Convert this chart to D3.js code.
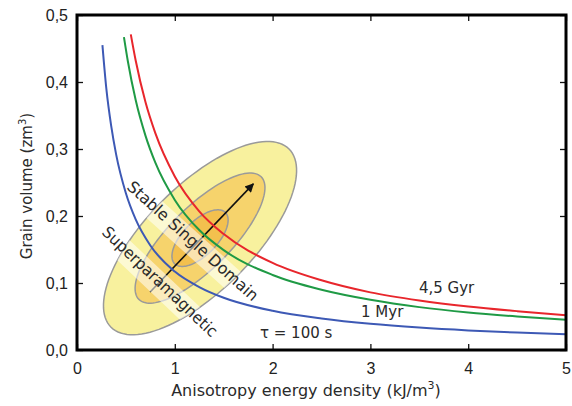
<!DOCTYPE html>
<html><head><meta charset="utf-8">
<script src="https://cdn.jsdelivr.net/npm/d3@7"></script>
<style>body{margin:0;background:#fff}svg{display:block}</style>
</head><body><svg id="c" width="572" height="406"></svg>
<script>
// ---- data ----
const anisotropyTicks = [0, 1, 2, 3, 4, 5];
const volumeTicks = [0, 0.1, 0.2, 0.3, 0.4, 0.5];
const curveNames = ["τ = 100 s", "1 Myr", "4,5 Gyr"];
const tau100sK = [0.26, 0.30, 0.35, 0.40, 0.50, 0.60, 0.75, 1.0, 1.25, 1.5, 2.0, 2.5, 3.0, 3.5, 4.0, 4.5, 5.0];
const tau100sV = [0.455, 0.39, 0.334, 0.292, 0.234, 0.195, 0.156, 0.117, 0.094, 0.078, 0.0585, 0.047, 0.039, 0.0334, 0.0292, 0.026, 0.0234];
const myr1K = [0.48, 0.52, 0.6, 0.7, 0.8, 1.0, 1.25, 1.5, 2.0, 2.5, 3.0, 3.5, 4.0, 4.5, 5.0];
const myr1V = [0.467, 0.431, 0.373, 0.32, 0.28, 0.224, 0.179, 0.149, 0.112, 0.090, 0.075, 0.064, 0.056, 0.050, 0.045];
const gyr45K = [0.55, 0.6, 0.7, 0.8, 1.0, 1.25, 1.5, 2.0, 2.5, 3.0, 3.5, 4.0, 4.5, 5.0];
const gyr45V = [0.471, 0.432, 0.37, 0.324, 0.259, 0.207, 0.173, 0.130, 0.104, 0.086, 0.074, 0.065, 0.058, 0.052];
// distribution ellipses (outer, middle, inner): centre, major-axis end, minor-axis end (data units)
const ellipseCentre = [1.258, 0.167];
const ellipseMajorEnd = [[2.168, 0.300], [1.883, 0.2585], [1.518, 0.2052]];
const ellipseMinorEnd = [[1.641, 0.1112], [1.482, 0.1345], [1.380, 0.149]];
const arrowFrom = [0.748, 0.0866];
const arrowTo = [1.803, 0.248];
const regionNames = ["Stable Single Domain", "Superparamagnetic"];

// ---- layout / style ----
const svg = d3.select("#c");
const x = d3.scaleLinear().domain([0, 5]).range([77, 566]);
const y = d3.scaleLinear().domain([0, 0.5]).range([350, 15]);
const curveColors = ["#3d59b5", "#1f9a45", "#e8262c"];
const ellipseFills = ["#f8f19e", "#f6d36c", "#f3c04e"];
const hand = "'DejaVu Sans', sans-serif";

const defs = svg.append("defs");
defs.append("marker").attr("id", "ah").attr("viewBox", "0 0 10 10")
  .attr("refX", 9).attr("refY", 5).attr("markerWidth", 12).attr("markerHeight", 9)
  .attr("markerUnits", "userSpaceOnUse").attr("orient", "auto")
  .append("path").attr("d", "M0,0 L10,5 L0,10 z").attr("fill", "#111");

// ellipses
function ellipsePts(i) {
  const cx = x(ellipseCentre[0]), cy = y(ellipseCentre[1]);
  const mx = x(ellipseMajorEnd[i][0]) - cx, my = y(ellipseMajorEnd[i][1]) - cy;
  const nx = x(ellipseMinorEnd[i][0]) - cx, ny = y(ellipseMinorEnd[i][1]) - cy;
  return d3.range(120).map(k => {
    const t = k / 120 * 2 * Math.PI;
    return [cx + mx * Math.cos(t) + nx * Math.sin(t), cy + my * Math.cos(t) + ny * Math.sin(t)];
  });
}
const closed = d3.line().curve(d3.curveLinearClosed);
defs.append("clipPath").attr("id", "outer").append("path").attr("d", closed(ellipsePts(0)));
const gE = svg.append("g");
[0, 1, 2].forEach(i => {
  gE.append("path").attr("d", closed(ellipsePts(i)))
    .attr("fill", ellipseFills[i]).attr("stroke", "#9a9a9a").attr("stroke-width", 1.5);
});

// arrow
svg.append("line")
  .attr("x1", x(arrowFrom[0])).attr("y1", y(arrowFrom[1]))
  .attr("x2", x(arrowTo[0])).attr("y2", y(arrowTo[1]))
  .attr("stroke", "#111").attr("stroke-width", 1.6).attr("marker-end", "url(#ah)");

// label anchors (data units) and angles
const regionAnchor = [[1.186, 0.1627], [0.849, 0.1022]];
const regionAngle = [42, 43.5];
const regionLen = [170, 152];

// translucent bands behind the region labels
const gB = svg.append("g").attr("clip-path", "url(#outer)");
regionNames.forEach((n, i) => {
  gB.append("rect")
    .attr("transform", `translate(${x(regionAnchor[i][0])},${y(regionAnchor[i][1])}) rotate(${regionAngle[i]})`)
    .attr("x", -250).attr("width", 500).attr("y", -9).attr("height", 23)
    .attr("fill", "#fff").attr("opacity", 0.55);
});

// curves
const line = d3.line().x(d => x(d[0])).y(d => y(d[1])).curve(d3.curveMonotoneX);
const series = [d3.zip(tau100sK, tau100sV), d3.zip(myr1K, myr1V), d3.zip(gyr45K, gyr45V)];
series.forEach((s, i) => {
  svg.append("path").attr("d", line(s)).attr("fill", "none")
    .attr("stroke", curveColors[i]).attr("stroke-width", 2);
});

// region labels
regionNames.forEach((n, i) => {
  svg.append("text")
    .attr("transform", `translate(${x(regionAnchor[i][0])},${y(regionAnchor[i][1])}) rotate(${regionAngle[i]})`)
    .attr("text-anchor", "middle").attr("dy", "0.35em")
    .attr("textLength", regionLen[i]).attr("lengthAdjust", "spacingAndGlyphs")
    .style("font-family", hand).style("font-size", "16px").attr("fill", "#2a2a2a")
    .text(n);
});

// curve labels
const curveLabelPos = [[1.871, 0.0172], [2.904, 0.049], [3.497, 0.085]];
curveNames.forEach((n, i) => {
  svg.append("text").attr("x", x(curveLabelPos[i][0])).attr("y", y(curveLabelPos[i][1]))
    .style("font-family", hand).style("font-size", "15px").attr("fill", "#2a2a2a")
    .text(n);
});

// axes (ticks inward on all four sides)
const tickFont = "'Liberation Sans', Arial, sans-serif";
const fmtV = d => d3.format(".1f")(d).replace(".", ",");
const axB = svg.append("g").attr("transform", "translate(0,350)")
  .call(d3.axisBottom(x).tickValues(anisotropyTicks).tickSize(-6).tickPadding(10).tickFormat(d3.format("d")));
const axT = svg.append("g").attr("transform", "translate(0,15)")
  .call(d3.axisTop(x).tickValues(anisotropyTicks).tickSize(-6).tickFormat(""));
const axL = svg.append("g").attr("transform", "translate(77,0)")
  .call(d3.axisLeft(y).tickValues(volumeTicks).tickSize(-6).tickPadding(9).tickFormat(fmtV));
const axR = svg.append("g").attr("transform", "translate(566,0)")
  .call(d3.axisRight(y).tickValues(volumeTicks).tickSize(-6).tickFormat(""));
[axB, axT, axL, axR].forEach(a => {
  a.select(".domain").remove();
  a.selectAll(".tick line").attr("stroke", "#111").attr("stroke-width", 1.3);
  a.selectAll("text").style("font-family", tickFont).style("font-size", "16px").attr("fill", "#222");
});
axB.selectAll("text").attr("dy", "0.85em");

svg.append("rect").attr("x", x(0)).attr("y", y(0.5))
  .attr("width", x(5) - x(0)).attr("height", y(0) - y(0.5))
  .attr("fill", "none").attr("stroke", "#000").attr("stroke-width", 3);

// axis titles
const xt = svg.append("text").attr("x", 306).attr("y", 396).attr("text-anchor", "middle")
  .style("font-family", hand).style("font-size", "16px").attr("fill", "#2a2a2a");
xt.append("tspan").text("Anisotropy energy density (kJ/m");
xt.append("tspan").attr("dy", "-7").style("font-size", "11px").text("3");
xt.append("tspan").attr("dy", "7").text(")");

const yt = svg.append("text").attr("transform", "translate(32,186) rotate(-90)").attr("text-anchor", "middle")
  .style("font-family", hand).style("font-size", "15px").attr("fill", "#2a2a2a");
yt.append("tspan").text("Grain volume (zm");
yt.append("tspan").attr("dy", "-6").style("font-size", "10px").text("3");
yt.append("tspan").attr("dy", "6").text(")");
</script></body></html>
